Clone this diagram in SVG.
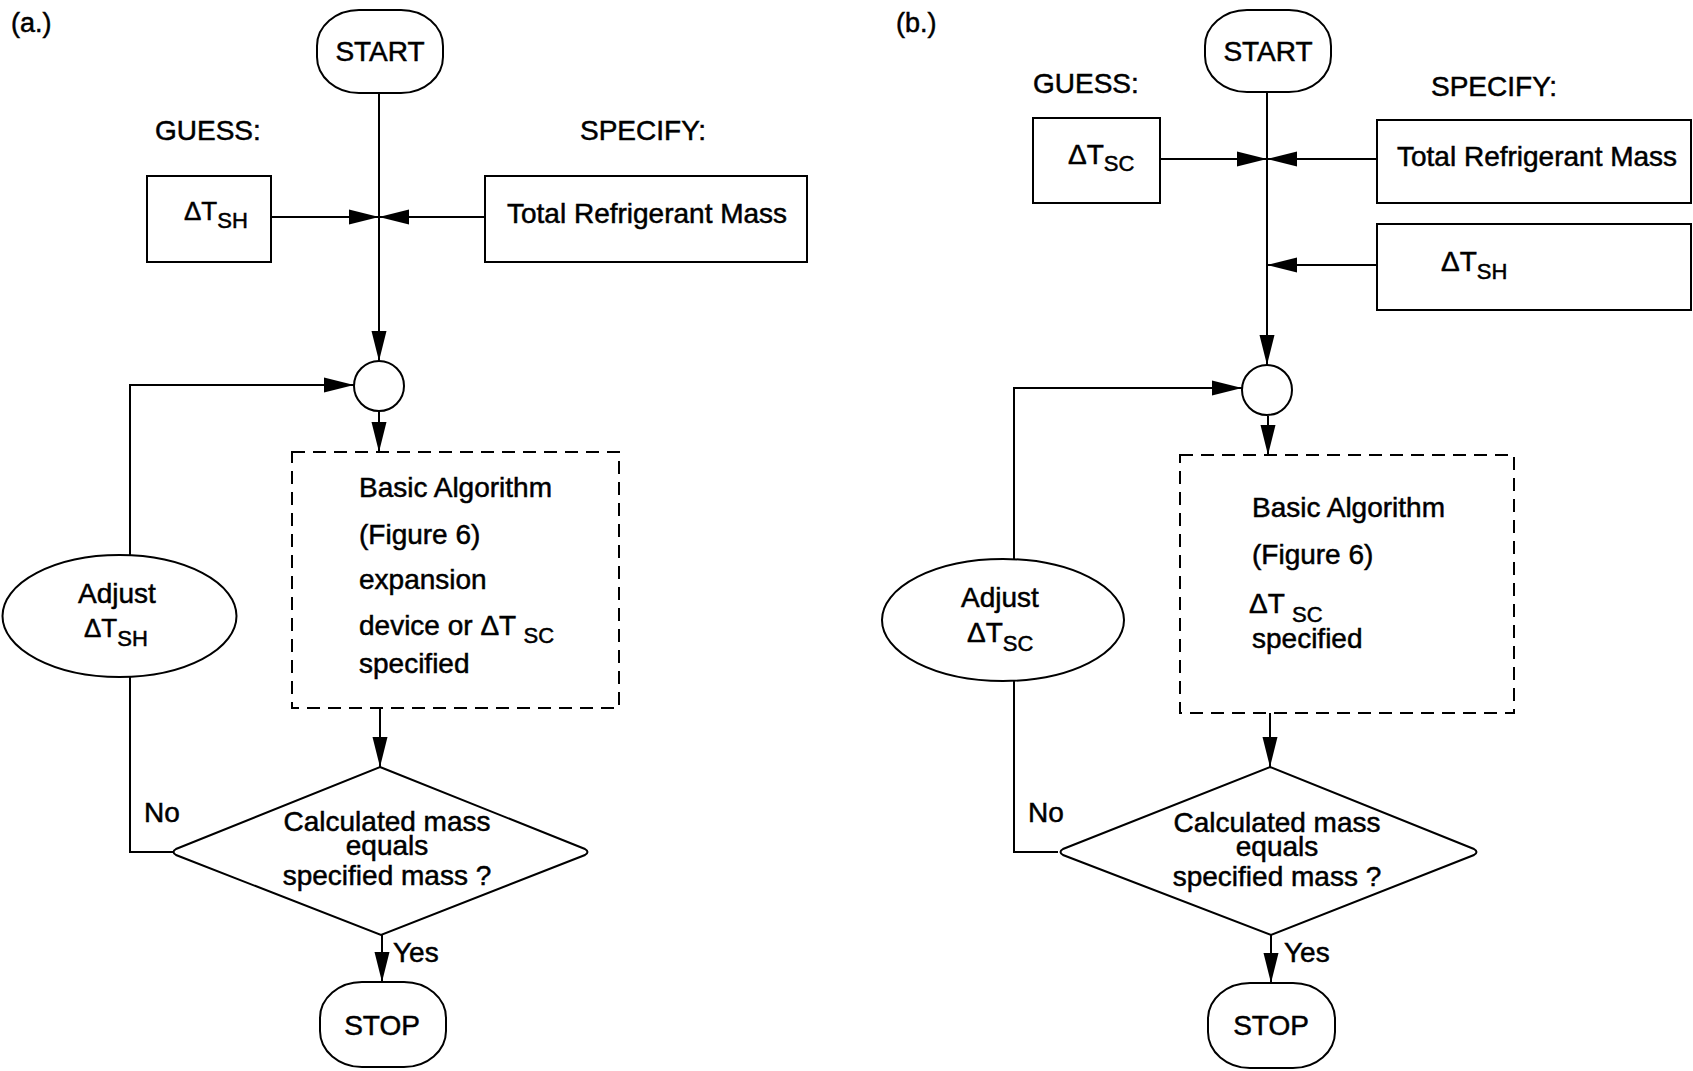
<svg xmlns="http://www.w3.org/2000/svg" width="1693" height="1071" viewBox="0 0 1693 1071">
<style>
text{font-family:"Liberation Sans",Arial,sans-serif;font-size:28px;fill:#000;stroke:#000;stroke-width:0.5}
.mid{text-anchor:middle}
.sub{font-size:22px}
.dt{font-size:26px}
.lbl{font-size:27px}
.box{fill:#fff;stroke:#000;stroke-width:2}
.dash{fill:none;stroke:#000;stroke-width:2;stroke-dasharray:13 8}
.ln{fill:none;stroke:#000;stroke-width:2}
</style>
<defs>
<marker id="ah" markerUnits="userSpaceOnUse" markerWidth="30" markerHeight="16" refX="30" refY="8" orient="auto">
<path d="M0,0.5 L30,8 L0,15.5 Z" fill="#000"/>
</marker>
</defs>
<rect width="1693" height="1071" fill="#fff"/>

<!-- Panel (a) -->
<text x="11" y="32" class="lbl">(a.)</text>
<text x="155" y="140">GUESS:</text>
<text x="580" y="140">SPECIFY:</text>

<g id="connectors-a">
<path class="ln" d="M379,93 L379,361" marker-end="url(#ah)"/>
<path class="ln" d="M271,217 L379,217" marker-end="url(#ah)"/>
<path class="ln" d="M485,217 L379,217" marker-end="url(#ah)"/>
<path class="ln" d="M379,411 L379,452" marker-end="url(#ah)"/>
<path class="ln" d="M380,708 L380,767" marker-end="url(#ah)"/>
<path class="ln" d="M382,935 L382,982" marker-end="url(#ah)"/>
<path class="ln" d="M173,852 L130,852 L130,677"/>
<path class="ln" d="M130,555 L130,385 L354,385" marker-end="url(#ah)"/>
<text x="144" y="822">No</text>
<text x="393" y="962">Yes</text>
</g>

<g id="a-start">
<rect class="box" x="317" y="10" width="126" height="83" rx="42" ry="36"/>
<text x="380" y="61" class="mid">START</text>
</g>
<g id="a-guess-dtsh">
<rect class="box" x="147" y="176" width="124" height="86"/>
<text x="184" y="220" class="dt">ΔT<tspan class="sub" dy="8">SH</tspan></text>
</g>
<g id="a-specify-mass">
<rect class="box" x="485" y="176" width="322" height="86"/>
<text x="507" y="223">Total Refrigerant Mass</text>
</g>
<g id="a-junction">
<circle class="box" cx="379" cy="386" r="25"/>
</g>
<g id="a-basic">
<rect class="dash" x="292" y="452" width="327" height="256"/>
<text x="359" y="497">Basic Algorithm</text>
<text x="359" y="544">(Figure 6)</text>
<text x="359" y="589">expansion</text>
<text x="359" y="635">device or ΔT <tspan class="sub" dy="8">SC</tspan></text>
<text x="359" y="673">specified</text>
</g>
<g id="a-adjust">
<ellipse class="box" cx="119.5" cy="616" rx="117" ry="61"/>
<text x="78" y="603">Adjust</text>
<text x="84" y="637" class="dt">ΔT<tspan class="sub" dy="9">SH</tspan></text>
</g>
<g id="a-decision">
<path class="box" d="M380,767 L585,849 Q590,852 585,855 L381,935 L176,855 Q171,852 176,849 Z"/>
<text x="387" y="831" class="mid">Calculated mass</text>
<text x="387" y="855" class="mid">equals</text>
<text x="387" y="885" class="mid">specified mass ?</text>
</g>
<g id="a-stop">
<rect class="box" x="320" y="982" width="126" height="85" rx="42" ry="36"/>
<text x="382" y="1035" class="mid">STOP</text>
</g>

<!-- Panel (b) -->
<text x="896" y="32" class="lbl">(b.)</text>
<text x="1033" y="93">GUESS:</text>
<text x="1431" y="96">SPECIFY:</text>

<g id="connectors-b">
<path class="ln" d="M1267,92 L1267,365" marker-end="url(#ah)"/>
<path class="ln" d="M1160,159 L1267,159" marker-end="url(#ah)"/>
<path class="ln" d="M1377,159 L1267,159" marker-end="url(#ah)"/>
<path class="ln" d="M1377,265 L1267,265" marker-end="url(#ah)"/>
<path class="ln" d="M1268,416 L1268,455" marker-end="url(#ah)"/>
<path class="ln" d="M1270,713 L1270,767" marker-end="url(#ah)"/>
<path class="ln" d="M1271,935 L1271,983" marker-end="url(#ah)"/>
<path class="ln" d="M1058,852 L1014,852 L1014,681"/>
<path class="ln" d="M1014,560 L1014,388 L1242,388" marker-end="url(#ah)"/>
<text x="1028" y="822">No</text>
<text x="1284" y="962">Yes</text>
</g>

<g id="b-start">
<rect class="box" x="1205" y="10" width="126" height="82" rx="42" ry="36"/>
<text x="1268" y="61" class="mid">START</text>
</g>
<g id="b-guess-dtsc">
<rect class="box" x="1033" y="118" width="127" height="85"/>
<text x="1068" y="164">ΔT<tspan class="sub" dy="7">SC</tspan></text>
</g>
<g id="b-specify-mass">
<rect class="box" x="1377" y="120" width="314" height="83"/>
<text x="1397" y="166">Total Refrigerant Mass</text>
</g>
<g id="b-specify-dtsh">
<rect class="box" x="1377" y="224" width="314" height="86"/>
<text x="1441" y="271">ΔT<tspan class="sub" dy="8">SH</tspan></text>
</g>
<g id="b-junction">
<circle class="box" cx="1267" cy="390" r="25"/>
</g>
<g id="b-basic">
<rect class="dash" x="1180" y="455" width="334" height="258"/>
<text x="1252" y="517">Basic Algorithm</text>
<text x="1252" y="564">(Figure 6)</text>
<text x="1249" y="613">ΔT <tspan class="sub" dy="9">SC</tspan></text>
<text x="1252" y="648">specified</text>
</g>
<g id="b-adjust">
<ellipse class="box" cx="1003" cy="620" rx="121" ry="61"/>
<text x="961" y="607">Adjust</text>
<text x="967" y="642">ΔT<tspan class="sub" dy="9">SC</tspan></text>
</g>
<g id="b-decision">
<path class="box" d="M1270,767 L1474,849 Q1479,852 1474,855 L1271,935 L1063,855 Q1058,852 1063,849 Z"/>
<text x="1277" y="832" class="mid">Calculated mass</text>
<text x="1277" y="856" class="mid">equals</text>
<text x="1277" y="886" class="mid">specified mass ?</text>
</g>
<g id="b-stop">
<rect class="box" x="1208" y="983" width="127" height="85" rx="42" ry="36"/>
<text x="1271" y="1035" class="mid">STOP</text>
</g>
</svg>
